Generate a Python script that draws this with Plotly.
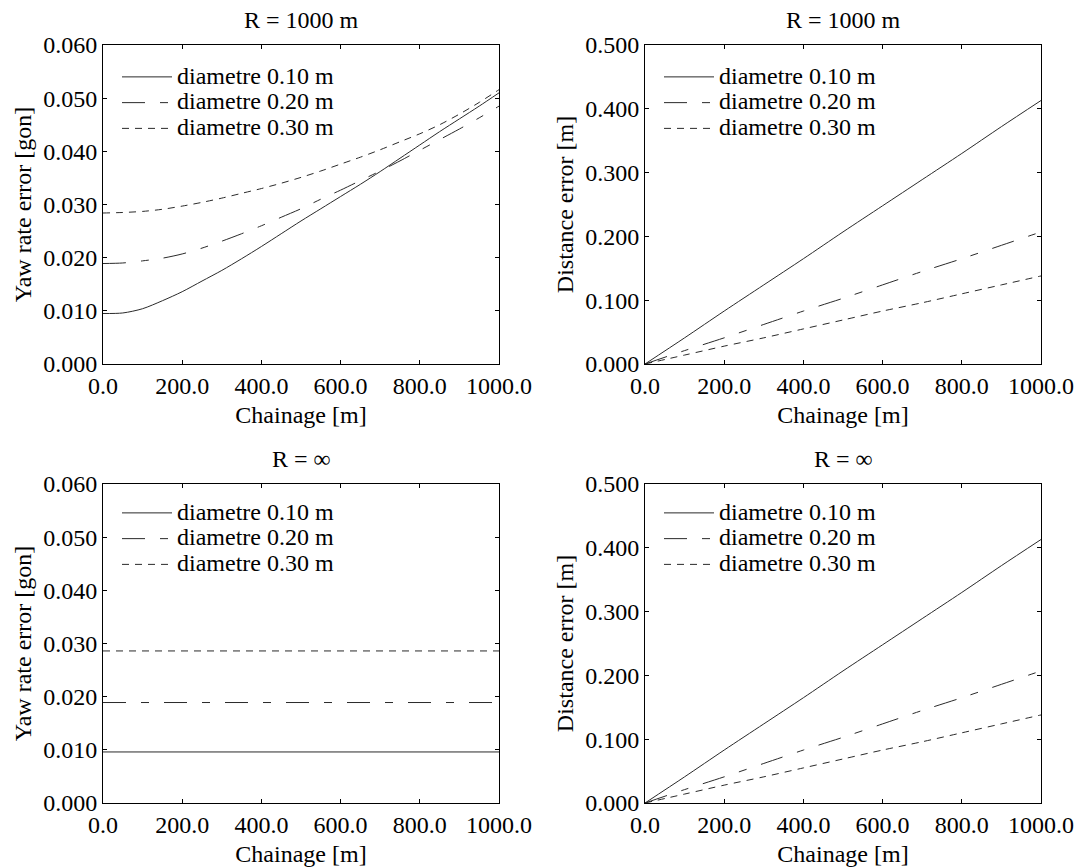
import plotly.graph_objects as go

# ---------------- data ----------------
chainage = [0, 50, 100, 150, 200, 250, 300, 350, 400, 450, 500,
            550, 600, 650, 700, 750, 800, 850, 900, 950, 1000]

yaw_r1000_d010 = [0.0095, 0.0096, 0.0104, 0.0119, 0.0136, 0.0156, 0.0176, 0.0198, 0.0221, 0.0245, 0.0269,
                  0.0292, 0.0315, 0.0338, 0.0362, 0.0387, 0.0412, 0.0437, 0.0461, 0.0485, 0.0510]
yaw_r1000_d020 = [0.0189, 0.0190, 0.0194, 0.0199, 0.0207, 0.0218, 0.0231, 0.0245, 0.0260, 0.0276, 0.0292,
                  0.0310, 0.0327, 0.0345, 0.0363, 0.0382, 0.0402, 0.0422, 0.0442, 0.0463, 0.0485]
yaw_r1000_d030 = [0.0284, 0.0285, 0.0287, 0.0291, 0.0297, 0.0304, 0.0312, 0.0321, 0.0330, 0.0340, 0.0351,
                  0.0363, 0.0376, 0.0389, 0.0403, 0.0418, 0.0433, 0.0450, 0.0470, 0.0492, 0.0516]

chainage_lin = [0, 100, 200, 300, 400, 500, 600, 700, 800, 900, 1000]
dist_d010 = [0.000, 0.041, 0.083, 0.124, 0.165, 0.207, 0.248, 0.289, 0.330, 0.372, 0.413]
dist_d020 = [0.000, 0.021, 0.041, 0.062, 0.083, 0.103, 0.124, 0.145, 0.165, 0.186, 0.207]
dist_d030 = [0.000, 0.014, 0.028, 0.041, 0.055, 0.069, 0.083, 0.096, 0.110, 0.124, 0.138]

chainage_const = [0, 1000]
yaw_inf_d010 = [0.0096, 0.0096]
yaw_inf_d020 = [0.0189, 0.0189]
yaw_inf_d030 = [0.0286, 0.0286]

series_names = ["diametre 0.10 m", "diametre 0.20 m", "diametre 0.30 m"]
panel_titles = ["R = 1000 m", "R = 1000 m", "R = ∞", "R = ∞"]
x_title = "Chainage [m]"
y_titles = ["Yaw rate error [gon]", "Distance error [m]",
            "Yaw rate error [gon]", "Distance error [m]"]

# ---------------- styling ----------------
W, H = 1078, 868
FONT = "Liberation Serif"
FS = 24
LEG_FS = 17.5          # controls legend row spacing
dashes = ["solid", "23px,15px,8px,15px", "7px,6px"]
line_color = "#2a2a2a"

# pixel frames of the four panels: (left, right, top, bottom)
frames = [(103, 499, 45, 364), (645, 1041, 45, 364),
          (103, 499, 484, 803), (645, 1041, 484, 803)]

fig = go.Figure()

panel_data = [
    (chainage, [yaw_r1000_d010, yaw_r1000_d020, yaw_r1000_d030]),
    (chainage_lin, [dist_d010, dist_d020, dist_d030]),
    (chainage_const, [yaw_inf_d010, yaw_inf_d020, yaw_inf_d030]),
    (chainage_lin, [dist_d010, dist_d020, dist_d030]),
]
legend_ids = ["legend", "legend2", "legend3", "legend4"]

for p, (xs, ys_list) in enumerate(panel_data):
    ax = "" if p == 0 else str(p + 1)
    for s, ys in enumerate(ys_list):
        fig.add_trace(go.Scatter(
            x=xs, y=ys, mode="lines",
            name="<span style='font-size:%dpx'>%s</span>" % (FS, series_names[s]),
            line=dict(color=line_color, width=1, dash=dashes[s],
                      shape="spline", smoothing=0.8),
            xaxis="x" + ax, yaxis="y" + ax, legend=legend_ids[p],
            showlegend=True,
        ))

layout = dict(
    template="none",
    width=W, height=H,
    margin=dict(l=0, r=0, t=0, b=0, autoexpand=False),
    paper_bgcolor="white", plot_bgcolor="white",
    font=dict(family=FONT, size=FS, color="black"),
    annotations=[],
)

y_ranges = [[0, 0.06], [0, 0.5], [0, 0.06], [0, 0.5]]
y_dticks = [0.01, 0.1, 0.01, 0.1]

for p, (l, r, t, b) in enumerate(frames):
    ax = "" if p == 0 else str(p + 1)
    xd = [l / W, r / W]
    yd = [(H - b) / H, (H - t) / H]
    layout["xaxis" + ax] = dict(
        domain=xd, range=[0, 1000], dtick=200, tick0=0, tickformat=".1f",
        showgrid=False, zeroline=False, showline=True, linecolor="black", linewidth=1,
        mirror="allticks", ticks="inside", ticklen=4, tickcolor="black",
        tickfont=dict(family=FONT, size=FS), anchor="y" + ax, automargin=False,
        title=dict(text=x_title, font=dict(family=FONT, size=FS), standoff=8),
    )
    layout["yaxis" + ax] = dict(
        domain=yd, range=y_ranges[p], dtick=y_dticks[p], tick0=0, tickformat=".3f",
        showgrid=False, zeroline=False, showline=True, linecolor="black", linewidth=1,
        mirror="allticks", ticks="inside", ticklen=4, tickcolor="black",
        tickfont=dict(family=FONT, size=FS), anchor="x" + ax, automargin=False,
        title=dict(text=y_titles[p], font=dict(family=FONT, size=FS), standoff=4),
    )
    # legend inside each panel
    leg_top = t + 14 if p < 2 else t + 11
    layout[legend_ids[p]] = dict(
        x=(l + 14) / W, y=(H - leg_top) / H, xanchor="left", yanchor="top",
        bgcolor="rgba(0,0,0,0)", borderwidth=0,
        font=dict(family=FONT, size=LEG_FS, color="black"),
        tracegroupgap=0, itemwidth=50,
    )
    layout["annotations"].append(dict(
        text=panel_titles[p], xref="paper", yref="paper",
        x=(l + r) / 2 / W, y=(H - (t - 25)) / H, xanchor="center", yanchor="middle",
        showarrow=False, font=dict(family=FONT, size=FS, color="black"),
    ))

fig.update_layout(**layout)
fig.write_html("out.html")
